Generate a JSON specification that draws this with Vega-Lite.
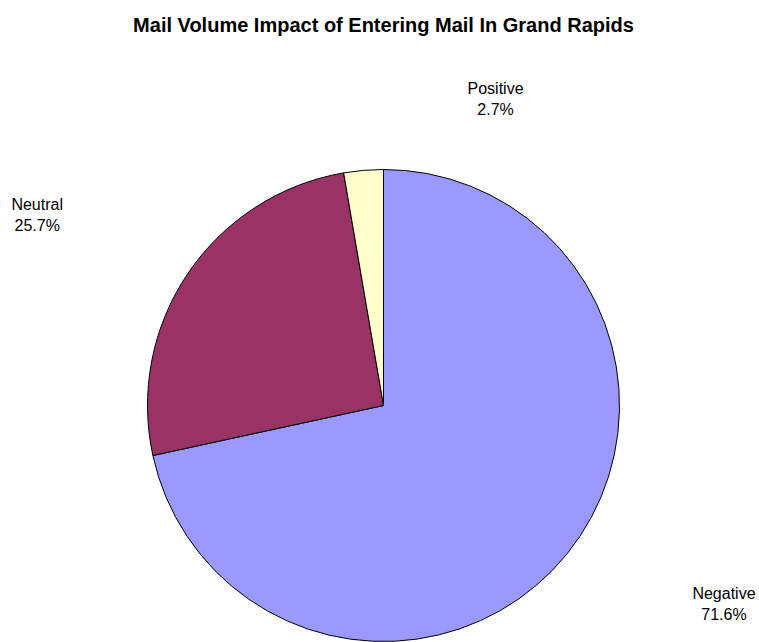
{
  "$schema": "https://vega.github.io/schema/vega-lite/v6.json",
  "width": 751,
  "height": 473,
  "autosize": {"type": "none"},
  "padding": {"left": 8, "top": 169, "right": 0, "bottom": 0},
  "background": "white",
  "config": {"view": {"stroke": null}},
  "title": {
    "text": "Mail Volume Impact of Entering Mail In Grand Rapids",
    "font": "Liberation Sans",
    "fontSize": 20,
    "fontWeight": "bold",
    "color": "black",
    "anchor": "middle",
    "frame": "group",
    "baseline": "alphabetic",
    "offset": 29
  },
  "data": {
    "values": [
      {"category": "Negative", "value": 0.716},
      {"category": "Neutral", "value": 0.257},
      {"category": "Positive", "value": 0.027}
    ]
  },
  "encoding": {
    "theta": {"field": "value", "type": "quantitative", "stack": true},
    "order": {"field": "category", "type": "ordinal", "sort": "ascending"}
  },
  "layer": [
    {
      "mark": {"type": "arc", "radius": 236, "stroke": "black", "strokeWidth": 1},
      "encoding": {
        "color": {
          "field": "category",
          "type": "nominal",
          "scale": {"domain": ["Negative", "Neutral", "Positive"], "range": ["#9999FF", "#993366", "#FFFFCC"]},
          "legend": null
        }
      }
    },
    {
      "mark": {
        "type": "text",
        "radius": 330,
        "font": "Liberation Sans",
        "fontSize": 16,
        "color": "black",
        "align": "center",
        "baseline": "alphabetic",
        "dx": {"expr": "datum.category === 'Negative' ? 83.6 : datum.category === 'Neutral' ? -72.8 : 140"},
        "dy": {"expr": "datum.category === 'Negative' ? -13.6 : datum.category === 'Neutral' ? -10.8 : 17.6"}
      },
      "encoding": {
        "detail": {"field": "category", "type": "nominal"},
        "text": {"field": "category", "type": "nominal"}
      }
    },
    {
      "mark": {
        "type": "text",
        "radius": 330,
        "font": "Liberation Sans",
        "fontSize": 16,
        "color": "black",
        "align": "center",
        "baseline": "alphabetic",
        "dx": {"expr": "datum.category === 'Negative' ? 83.6 : datum.category === 'Neutral' ? -72.8 : 140"},
        "dy": {"expr": "datum.category === 'Negative' ? 7.1 : datum.category === 'Neutral' ? 9.9 : 38.3"}
      },
      "encoding": {
        "detail": {"field": "category", "type": "nominal"},
        "text": {"field": "value", "type": "quantitative", "format": ".1%"}
      }
    }
  ]
}
